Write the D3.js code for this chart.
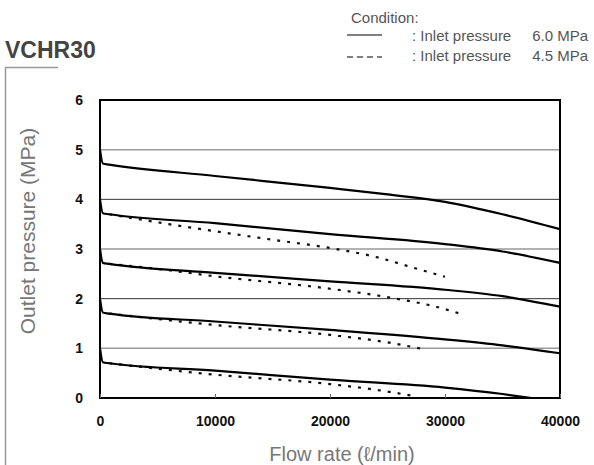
<!DOCTYPE html>
<html><head><meta charset="utf-8">
<script src="https://cdn.jsdelivr.net/npm/d3@7"></script>
<style>body{margin:0;background:#fff}svg{display:block}</style>
</head><body>
<script>
// Data (flow rate l/min, outlet pressure MPa)
const xTicks = [0, 10000, 20000, 30000, 40000];
const yTicks = [0, 1, 2, 3, 4, 5, 6];
const solid5 = [[0,5.0],[250,4.72],[800,4.7],[10000,4.47],[20000,4.23],[25000,4.1],[30000,3.95],[35000,3.7],[40000,3.4]];
const solid4 = [[0,4.0],[250,3.72],[800,3.7],[10000,3.52],[20000,3.3],[30000,3.1],[35000,2.95],[40000,2.72]];
const solid3 = [[0,3.0],[250,2.72],[800,2.7],[10000,2.52],[20000,2.35],[30000,2.18],[35000,2.05],[40000,1.84]];
const solid2 = [[0,2.0],[250,1.72],[800,1.7],[10000,1.54],[20000,1.37],[30000,1.18],[35000,1.06],[40000,0.9]];
const solid1 = [[0,1.0],[250,0.72],[800,0.7],[10000,0.55],[20000,0.37],[30000,0.21],[35000,0.08],[37500,0.0]];
const dash4 = [[800,3.7],[6000,3.5],[14000,3.22],[21000,2.98],[24000,2.84],[27000,2.64],[30000,2.44]];
const dash3 = [[800,2.7],[5000,2.6],[10000,2.45],[20000,2.2],[26000,1.99],[29000,1.85],[31300,1.7]];
const dash2 = [[800,1.7],[10000,1.47],[20000,1.27],[25000,1.12],[28400,0.97]];
const dash1 = [[800,0.7],[10000,0.47],[20000,0.28],[25000,0.13],[27500,0.03]];
const solidSeries = [solid5, solid4, solid3, solid2, solid1];
const dashSeries = [dash4, dash3, dash2, dash1];

const W = 594, H = 465;
const svg = d3.select("body").append("svg").attr("width", W).attr("height", H);
const x = d3.scaleLinear().domain([0, 40000]).range([100, 560]);
const y = d3.scaleLinear().domain([0, 6]).range([398, 100]);
const lf = "Liberation Sans, Arial, sans-serif";

// bracket frame
svg.append("path").attr("d", "M5.5,465 L5.5,67.5 L58,67.5").attr("fill","none").attr("stroke","#999").attr("stroke-width",1.5);

// title
svg.append("text").attr("x",5).attr("y",58).text("VCHR30")
  .attr("font-family",lf).attr("font-weight","bold").attr("font-size",23).attr("fill","#444");

// legend
svg.append("text").attr("x",351).attr("y",23).text("Condition:").attr("font-family",lf).attr("font-size",15).attr("fill","#555");
svg.append("line").attr("x1",347).attr("x2",382).attr("y1",35).attr("y2",35).attr("stroke","#555").attr("stroke-width",1.5);
svg.append("line").attr("x1",347).attr("x2",382).attr("y1",57).attr("y2",57).attr("stroke","#555").attr("stroke-width",1.5).attr("stroke-dasharray","6,4");
[["6.0 MPa",41],["4.5 MPa",61]].forEach(([t,yy])=>{
  svg.append("text").attr("x",412).attr("y",yy).text(": Inlet pressure").attr("font-family",lf).attr("font-size",15).attr("fill","#555");
  svg.append("text").attr("x",588).attr("y",yy).attr("text-anchor","end").text(t).attr("font-family",lf).attr("font-size",15).attr("fill","#555");
});

// gridlines
[1,2,3,4,5].forEach(v=>{
  const dark = (v % 2 === 0);
  svg.append("line").attr("x1",x(0)).attr("x2",x(40000)).attr("y1",y(v)).attr("y2",y(v))
    .attr("stroke", dark ? "#333" : "#999").attr("stroke-width", dark ? 1 : 1.5);
});

// frame
svg.append("rect").attr("x",x(0)).attr("y",y(6)).attr("width",x(40000)-x(0)).attr("height",y(0)-y(6))
  .attr("fill","none").attr("stroke","#000").attr("stroke-width",2);

// axes
const xAxis = d3.axisBottom(x).tickValues(xTicks).tickSize(-4).tickPadding(18).tickFormat(d3.format("d"));
const gx = svg.append("g").attr("transform",`translate(0,${y(0)})`).call(xAxis);
gx.select(".domain").remove();
gx.selectAll("line").attr("stroke","#666");
gx.selectAll("text").attr("font-family",lf).attr("font-weight","bold").attr("font-size",14).attr("fill","#111");

const yAxis = d3.axisLeft(y).tickValues(yTicks).tickSize(0).tickPadding(17).tickFormat(d3.format("d"));
const gy = svg.append("g").attr("transform",`translate(${x(0)},0)`).call(yAxis);
gy.select(".domain").remove();
gy.selectAll("text").attr("font-family",lf).attr("font-weight","bold").attr("font-size",14).attr("fill","#111");

// axis titles
svg.append("text").attr("transform","translate(35,231) rotate(-90)").attr("text-anchor","middle")
  .text("Outlet pressure (MPa)").attr("font-family",lf).attr("font-size",21).attr("fill","#777");
svg.append("text").attr("x",342).attr("y",461).attr("text-anchor","middle")
  .text("Flow rate (ℓ/min)").attr("font-family",lf).attr("font-size",20).attr("fill","#777");

// curves
const line = d3.line().x(d=>x(d[0])).y(d=>y(d[1])).curve(d3.curveMonotoneX);
dashSeries.forEach(s=>{
  svg.append("path").attr("d",line(s)).attr("fill","none").attr("stroke","#111").attr("stroke-width",2.2).attr("stroke-dasharray","3,7");
});
solidSeries.forEach(s=>{
  svg.append("path").attr("d",line(s)).attr("fill","none").attr("stroke","#000").attr("stroke-width",2.2);
});
</script>
</body></html>
